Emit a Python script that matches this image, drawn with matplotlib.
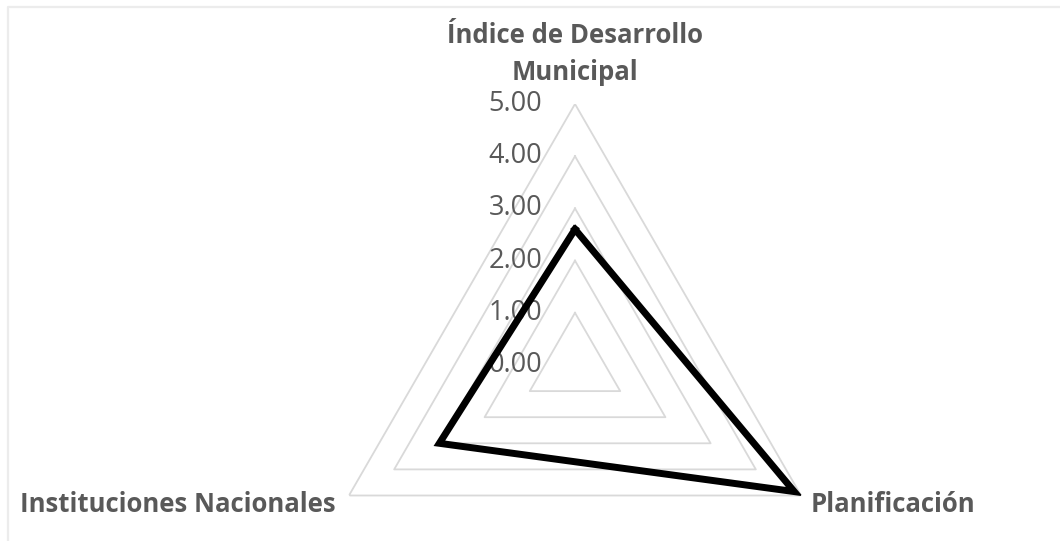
import numpy as np
import matplotlib
matplotlib.use("Agg")
import matplotlib.pyplot as plt
from matplotlib.lines import Line2D
import matplotlib.transforms as mtransforms

categories = ["Índice de Desarrollo\nMunicipal", "Planificación", "Instituciones Nacionales"]
values = [2.6, 4.85, 3.0]
ring_levels = [1, 2, 3, 4, 5]
tick_values = [0, 1, 2, 3, 4, 5]
tick_labels = ["0.00", "1.00", "2.00", "3.00", "4.00", "5.00"]

plt.rcParams['font.family'] = ['Open Sans', 'DejaVu Sans']
label_color = '#595959'

W, H = 1060, 541
fig = plt.figure(figsize=(10.6, 5.41), dpi=100)
fig.patch.set_facecolor('white')
# faint chart-area border (top and left edges visible)
fig.lines.append(Line2D([7.5 / W, 7.5 / W, 1.0], [0.0, 1 - 6.5 / H, 1 - 6.5 / H],
                        transform=fig.transFigure, color='#ececec', linewidth=1.6))

cx, cy, R = 575, 365, 261
ax = fig.add_axes([(cx - R) / W, (H - cy - R) / H, 2 * R / W, 2 * R / H], projection='polar')
ax.set_theta_offset(np.pi / 2)
ax.set_theta_direction(-1)
ax.set_ylim(0, 5)
ax.grid(False)
ax.spines['polar'].set_visible(False)
ax.set_xticks([])
ax.set_yticks([])
ax.patch.set_alpha(0)

n = len(categories)
angles = np.arange(n) * 2 * np.pi / n
closed = np.concatenate([angles, angles[:1]])

for lvl in ring_levels:
    ax.plot(closed, [lvl] * (n + 1), color='#d9d9d9', linewidth=1.3, zorder=1)

vals = list(values) + [values[0]]
ax.plot(closed, vals, color='black', linewidth=5.0, solid_joinstyle='miter', zorder=3)

# radial tick labels
off = mtransforms.offset_copy(ax.transData, fig=fig, x=-33 * 72 / 100, y=0, units='points')
for v, lab in zip(tick_values, tick_labels):
    ax.text(0, v, lab, transform=off, ha='right', va='center', fontsize=19.5,
            color=label_color, zorder=2)

# category labels
fig.text(575 / W, 1 - 54 / H, categories[0], ha='center', va='center', fontsize=18.5,
         fontweight='bold', color=label_color, linespacing=1.45)
fig.text(811 / W, 1 - 505 / H, categories[1], ha='left', va='center', fontsize=18.5,
         fontweight='bold', color=label_color)
fig.text(336 / W, 1 - 505 / H, categories[2], ha='right', va='center', fontsize=18.5,
         fontweight='bold', color=label_color)

fig.savefig("out.png", dpi=100, facecolor='white')
